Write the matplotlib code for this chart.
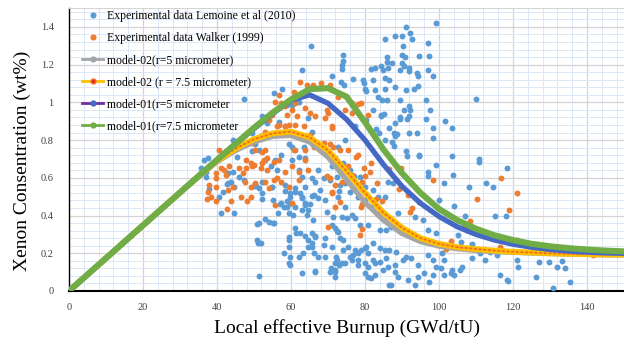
import numpy as np
import matplotlib
matplotlib.use("Agg")
import matplotlib.pyplot as plt
from matplotlib.lines import Line2D
from matplotlib.ticker import MultipleLocator, FuncFormatter

plt.rcParams['font.family'] = ['Liberation Serif', 'DejaVu Serif']

# ---------------- data ----------------
lemoine_points = [
    (99.1,1.42),(91.1,1.40),(88.0,1.35),(89.9,1.35),(92.1,1.37),(92.6,1.335),(85.3,1.335),(90.2,1.30),(96.9,1.317),
    (74.1,1.25),(74.0,1.22),(73.9,1.20),(73.9,1.176),(85.9,1.24),(85.9,1.216),(87.3,1.21),
    (89.9,1.25),(90.9,1.24),(90.0,1.21),(90.5,1.195),(89.5,1.17),(92.0,1.18),(92.0,1.165),
    (94.7,1.247),(97.4,1.245),(96.9,1.172),(98.3,1.14),(94.0,1.155),(94.4,1.14),
    (81.6,1.176),(82.8,1.18),(84.4,1.195),(84.9,1.17),(86.2,1.18),(71.0,1.14),(76.8,1.123),(73.6,1.11),(74.2,1.09),
    (79.4,1.117),(79.6,1.10),(80.0,1.07),(80.4,1.06),(85.3,1.13),(86.6,1.12),(82.2,1.12),(82.8,1.065),(85.3,1.07),
    (88.2,1.08),(91.1,1.063),(93.3,1.07),(94.4,1.085),(83.5,1.03),(84.6,1.015),(85.9,1.01),(89.4,1.01),(96.5,1.01),
    (110.1,1.02),(91.8,0.98),(92.2,0.96),(97.6,0.96),(90.5,0.96),(89.4,0.92),(91.8,0.93),(91.3,0.91),(96.5,0.91),
    (101.7,0.90),(84.4,0.93),(85.1,0.94),(88.2,0.89),(89.4,0.91),(103.6,0.863),(98.5,0.865),(98.5,0.81),(94.0,0.84),
    (91.8,0.84),(87.8,0.84),(88.7,0.83),(87.2,0.79),(87.8,0.77),(83.1,0.86),(83.7,0.84),(91.2,0.74),(94.6,0.72),
    (103.4,0.716),(110.8,0.70),
    (110.9,0.684),(118.5,0.65),(118.2,0.398),(99.1,0.668),(101.4,0.571),(103.9,0.615),(114.6,0.55),(112.7,0.57),
    (97.0,0.61),(91.4,0.716),(94.7,0.716),(76.9,0.61),(73.3,0.56),(72.9,0.53),(69.6,0.42),
    (71.4,0.394),(73.7,0.394),(75.0,0.386),(77.3,0.386),(78.6,0.35),(80.8,0.35),(84.0,0.324),(85.7,0.324),
    (71.0,0.35),(72.3,0.32),(73.2,0.28),(69.3,0.28),(71.2,0.235),(72.1,0.18),(72.9,0.14),
    (74.1,0.218),(75.9,0.182),(77.3,0.218),(79.0,0.218),(80.4,0.235),(80.8,0.20),
    (82.2,0.256),(84.0,0.226),(85.3,0.218),(86.6,0.218),(88.4,0.208),
    (76.4,0.164),(78.2,0.138),(79.9,0.147),(82.2,0.164),(84.0,0.155),(85.7,0.173),
    (72.5,0.164),(74.7,0.147),(70.7,0.12),(72.0,0.10),
    (80.7,0.076),(82.6,0.085),(86.2,0.129),(88.0,0.138),(90.2,0.164),(91.1,0.182),(92.4,0.173),(94.2,0.138),
    (96.9,0.19),(98.3,0.164),(99.1,0.129),(100.9,0.20),(101.4,0.164),(100.5,0.12),(101.4,0.085),(103.6,0.111),
    (104.1,0.085),(106.3,0.129),(109.0,0.173),(111.2,0.20),(112.5,0.164),(113.9,0.208),(116.6,0.085),(118.4,0.058),
    (86.6,0.032),(88.9,0.076),(91.6,0.058),(93.4,0.032),(94.2,0.076),(96.0,0.094),(97.4,0.049),(98.3,0.085),
    (103.2,0.094),(105.8,0.111),
    (67.4,0.642),(68.8,0.598),(71.0,0.66),(71.9,0.704),(74.1,0.677),(75.9,0.642),(78.6,0.606),(79.9,0.553),
    (82.2,0.536),(83.5,0.50),(85.3,0.50),(86.2,0.58),(87.5,0.571),(88.9,0.412),(93.4,0.394),(95.6,0.377),
    (96.9,0.324),(99.1,0.306),(105.0,0.297),(107.6,0.324),(96.9,0.633),(100.0,0.483),(101.8,0.412),(114.8,0.288),
    (47.3,1.017),(63.0,1.17),(65.5,1.30),(55.4,1.05),(57.6,1.07),(58.9,0.987),(60.3,0.987),(62.2,1.0),(64.7,0.916),
    (65.6,0.845),(63.4,0.765),(61.2,0.748),(60.3,0.695),(56.7,0.898),(58.5,0.872),(52.2,0.925),(53.6,0.89),
    (54.9,0.83),(56.2,0.83),(49.5,0.837),(50.4,0.78),(51.3,0.75),(49.5,0.74),(44.2,0.80),(45.5,0.775),(44.6,0.75),
    (45.5,0.71),(36.6,0.695),(37.5,0.704),(35.7,0.65),(37.0,0.633),(42.9,0.624),(44.2,0.633),(53.1,0.695),
    (54.5,0.66),(55.8,0.695),(57.2,0.72),(56.3,0.642),(60.3,0.765),(59.4,0.78),(62.1,0.642),(63.0,0.606),
    (63.9,0.553),(58.5,0.562),(59.8,0.50),(54.9,0.553),(51.3,0.545),(52.2,0.518),(46.0,0.606),(47.3,0.589),
    (42.9,0.571),(44.6,0.553),(37.0,0.606),(41.5,0.527),(40.6,0.50),
    (37.9,0.54),(42.8,0.568),(43.8,0.58),(41.1,0.412),(44.6,0.412),(50.0,0.557),(50.6,0.557),(52.2,0.58),
    (54.9,0.55),(52.2,0.488),(55.0,0.483),(58.5,0.532),(59.8,0.518),(61.2,0.545),(62.3,0.521),(65.6,0.504),
    (63.0,0.492),(63.9,0.465),(65.2,0.462),(57.0,0.462),(58.0,0.447),(58.9,0.479),(59.6,0.468),(56.5,0.412),
    (59.4,0.412),(60.5,0.403),(64.6,0.43),(50.7,0.355),(53.1,0.38),(54.0,0.368),(55.1,0.362),(65.9,0.377),
    (61.4,0.31),(50.7,0.27),(51.2,0.253),(59.4,0.285),(59.4,0.27),(63.7,0.29),(64.7,0.27),(65.6,0.253),
    (65.8,0.235),(66.4,0.29),(58.0,0.203),(63.2,0.20),(59.8,0.138),(66.5,0.108),(51.3,0.08),
    (121.0,0.164),(121.3,0.129),(126.9,0.152),(129.7,0.152),(132.0,0.129),(133.3,0.161),(134.0,0.12),
    (118.6,0.053),(126.2,0.073),(130.9,0.018),(135.5,0.05),(115.6,0.19),
    (51.3,0.359),(51.8,0.253),(55.4,0.359),(57.2,0.465),(58.9,0.447),(59.8,0.465),(61.2,0.447),(63.9,0.456),
    (62.9,0.43),(64.3,0.403),(61.2,0.527),(62.9,0.50),(66.1,0.509),(67.4,0.492),(59.4,0.147),(62.1,0.182),
    (64.7,0.235),(66.1,0.20),(67.4,0.182),(68.8,0.244),(63.0,0.094),(66.5,0.102),(69.2,0.182),(71.9,0.147),
    (71.9,0.111),(70.6,0.102),(72.8,0.315),(74.1,0.27),(75.5,0.235),(76.8,0.19),(78.2,0.20),(79.9,0.226),
    (71.9,0.333),(65.6,0.306),(66.5,0.288),(61.2,0.333),(62.5,0.306),(59.4,0.235),(59.8,0.182),(73.7,0.147),
    (78.2,0.164),(80.8,0.129),(82.6,0.147),(84.9,0.111),(88.0,0.102),(87.1,0.032),(79.9,0.094),(81.7,0.067),
    (71.9,0.076),
    (62.1,0.712),(63.9,0.704),(65.6,0.598),(66.5,0.58),(67.9,0.536),(69.2,0.483),(70.6,0.589),(71.9,0.668),
    (72.3,0.606),(74.6,0.571),(75.9,0.527),(78.2,0.50),(79.9,0.483),(81.7,0.447),(84.0,0.412),(85.3,0.377),
    (87.1,0.341),(72.8,0.50),(74.6,0.447),(76.4,0.403),(72.8,0.765),(74.6,0.80),(77.3,0.872),(80.4,0.907),
    (82.2,0.96),(84.4,0.934),(86.6,0.863),(88.0,0.819),(85.3,0.80),
    (104.0,0.45),(107.0,0.40),(110.0,0.33),(113.0,0.30),(115.0,0.40),(108.0,0.55),(106.0,0.26),(109.0,0.25),
]

walker_points = [
    (116.8,0.60),(110.3,0.486),(118.8,0.43),(98.5,0.589),(89.8,0.65),(91.5,0.51),(92.6,0.44),(92.1,0.42),
    (94.6,0.47),(89.1,0.54),(83.3,0.571),(81.6,0.68),(81.3,0.63),(77.6,0.71),(79.6,0.65),(80.1,0.61),(79.2,0.58),
    (86.6,0.644),(108.5,0.373),(106.8,0.337),(103.2,0.267),(101.8,0.22),(116.6,0.232),(82.9,0.49),(84.7,0.476),
    (79.2,0.46),(71.0,0.52),(73.3,0.47),(69.7,0.61),(70.6,0.60),(79.2,0.33),
    (121.0,0.518),(121.2,0.27),(117.0,0.218),(141.6,0.19),
    (62.5,1.11),(64.3,1.093),(60.7,1.057),(56.7,1.04),(55.8,1.004),(58.5,0.978),(60.3,0.96),(63.9,0.969),
    (65.2,0.943),(66.5,0.925),(61.2,0.88),(63.4,0.872),(65.2,0.828),(63.9,0.81),(54.9,0.934),(54.0,0.907),
    (51.8,0.819),(53.1,0.845),(49.5,0.784),(50.4,0.75),(53.1,0.75),(47.8,0.695),(49.1,0.677),(52.2,0.677),
    (53.6,0.642),(51.8,0.65),(60.3,0.66),(58.5,0.633),(63.9,0.695),(43.8,0.739),(42.4,0.739),(40.6,0.75),
    (41.1,0.65),(43.3,0.66),(39.7,0.624),(46.0,0.65),(46.9,0.624),(37.9,0.562),(39.7,0.553),(37.5,0.527),
    (44.2,0.553),(42.9,0.535),(49.1,0.553),(50.4,0.571),(53.1,0.58),(56.3,0.597),(57.2,0.58),(49.1,0.50),
    (47.6,0.58),(37.3,0.488),(38.4,0.497),(39.7,0.477),(43.8,0.477),(46.4,0.50),(48.2,0.479),(42.8,0.433),
    (57.2,0.996),(61.2,0.996),(58.9,0.934),(59.4,0.88),(58.5,0.872),(61.6,0.925),(56.2,0.872),(56.7,0.88),
    (69.7,0.96),(71.0,0.872),(74.6,0.96),(76.4,0.943),(79.0,0.996),(80.8,0.934),(63.9,0.748),(66.1,0.765),
    (67.9,0.748),(64.7,0.642),(62.1,0.633),(60.7,0.748),(55.4,0.686),(56.7,0.695),(52.2,0.739),(52.7,0.695),
    (53.6,0.704),(50.0,0.668),(49.5,0.66),(47.8,0.65),(39.7,0.598),(42.0,0.642),(42.4,0.615),(71.9,0.447),
    (70.1,0.341),(71.0,0.527),(71.9,0.562),(78.6,0.297),(79.0,0.447),(73.7,0.58),(75.5,0.66),(78.2,0.72),
    (76.4,0.615),(70.6,0.78),(71.4,0.765),(62.1,0.589),(59.4,0.553),(60.3,0.465),(55.8,0.456),(54.0,0.545),
    (55.4,0.589),(70.6,1.093),(71.4,1.066),(72.8,1.027),(75.0,1.027),(76.4,0.996),(78.2,0.992),(69.2,0.916),
    (70.1,0.943),(71.0,0.863),(73.2,0.748),(75.5,0.748),(68.8,0.784),(66.0,1.09),(68.0,1.10),
]

model_burnup = [0, 5, 10, 15, 20, 25, 30, 35, 40, 45, 50, 55, 60, 65, 70, 75, 80, 85, 90, 95,
                100, 105, 110, 115, 120, 125, 130, 135, 140, 145, 150]
model02_r5 = [0, 0.087, 0.174, 0.261, 0.348, 0.435, 0.522, 0.605, 0.685, 0.745, 0.79, 0.82, 0.825, 0.79,
              0.71, 0.59, 0.47, 0.375, 0.305, 0.262, 0.238, 0.224, 0.215, 0.209, 0.205, 0.201, 0.198,
              0.196, 0.194, 0.192, 0.191]
model02_r75 = [0, 0.087, 0.174, 0.261, 0.348, 0.435, 0.522, 0.607, 0.69, 0.755, 0.805, 0.835, 0.845, 0.815,
               0.745, 0.635, 0.52, 0.415, 0.335, 0.28, 0.25, 0.232, 0.222, 0.214, 0.208, 0.204, 0.20,
               0.197, 0.195, 0.193, 0.192]
model01_r5 = [0, 0.087, 0.174, 0.261, 0.348, 0.435, 0.522, 0.609, 0.695, 0.78, 0.86, 0.94, 1.01, 1.04,
              0.995, 0.91, 0.80, 0.67, 0.555, 0.465, 0.395, 0.34, 0.30, 0.27, 0.248, 0.232, 0.22,
              0.212, 0.206, 0.202, 0.20]
model01_r75 = [0, 0.087, 0.174, 0.261, 0.348, 0.435, 0.522, 0.609, 0.695, 0.78, 0.865, 0.945, 1.015, 1.07,
               1.075, 1.03, 0.895, 0.75, 0.625, 0.52, 0.435, 0.375, 0.33, 0.295, 0.27, 0.25, 0.237,
               0.227, 0.22, 0.214, 0.21]

x_ticks = [0, 20, 40, 60, 80, 100, 120, 140]
y_ticks = [0, 0.2, 0.4, 0.6, 0.8, 1.0, 1.2, 1.4]

labels = ["Experimental data Lemoine et al (2010)", "Experimental data Walker (1999)",
          "model-02(r=5 micrometer)", "model-02 (r = 7.5 micrometer)",
          "model-01(r=5 micrometer", "model-01(r=7.5 micrometer"]

# ---------------- colours ----------------
C_BLUE = '#5B9BD5'
C_ORANGE = '#ED7D31'
C_GRAY = '#A5A5A5'
C_YELLOW = '#FFC000'
C_MBLUE = '#4468C4'
C_PURPLE = '#7030A0'
C_GREEN = '#70AD47'

fig = plt.figure(figsize=(6.24, 3.47), dpi=100)
ax = fig.add_axes([69/624, 1-291/347, 555/624, 283/347])

lx, ly = zip(*lemoine_points)
wx, wy = zip(*walker_points)
ax.scatter(lx, ly, s=18, color=C_BLUE, linewidths=0, zorder=3)
ax.scatter(wx, wy, s=18, color=C_ORANGE, linewidths=0, zorder=3)

ax.plot(model_burnup, model02_r5, color=C_GRAY, lw=3.8, solid_joinstyle='round',
        solid_capstyle='round', zorder=4)
ax.plot(model_burnup, model02_r75, color=C_YELLOW, lw=4.2, solid_joinstyle='round',
        solid_capstyle='round', zorder=4)
ax.plot(model_burnup, model02_r75, color='#F0701E', lw=1.4, linestyle=(0, (0.8, 1.6)),
        dash_capstyle='round', zorder=4)
ax.plot(model_burnup, model01_r5, color=C_MBLUE, lw=3.8, solid_joinstyle='round',
        solid_capstyle='round', zorder=4)
ax.plot(model_burnup, model01_r75, color=C_GREEN, lw=4.4, solid_joinstyle='round',
        solid_capstyle='round', zorder=4)

ax.set_xlim(0, 150)
ax.set_ylim(0, 1.5)
ax.set_xticks(x_ticks)
ax.set_yticks(y_ticks)
ax.xaxis.set_minor_locator(MultipleLocator(4))
ax.yaxis.set_minor_locator(MultipleLocator(0.04))
ax.yaxis.set_major_formatter(FuncFormatter(lambda v, p: f"{v:g}"))
ax.grid(which='minor', color='#DCE8F6', lw=0.7, zorder=0)
ax.grid(which='major', color='#D4D4D4', lw=0.9, zorder=0)
ax.set_axisbelow(True)
ax.tick_params(which='both', length=0)
ax.tick_params(axis='x', pad=9, labelsize=7.5, labelcolor='#404040')
ax.tick_params(axis='y', pad=11, labelsize=7.5, labelcolor='#404040')

ax.spines['right'].set_visible(False)
ax.spines['top'].set_color('#D4D4D4')
ax.spines['left'].set_color('black')
ax.spines['left'].set_linewidth(1.0)
ax.spines['bottom'].set_color('black')
ax.spines['bottom'].set_linewidth(1.5)

ax.set_xlabel("Local effective Burnup (GWd/tU)", fontsize=14)
ax.set_ylabel("Xenon Consentration (wt%)", fontsize=14)
ax.xaxis.set_label_coords(0.5, -0.10)
ax.yaxis.set_label_coords(-0.068, 0.46)

handles = [
    Line2D([], [], ls='none', marker='o', ms=4.4, color=C_BLUE, mew=0),
    Line2D([], [], ls='none', marker='o', ms=4.4, color=C_ORANGE, mew=0),
    Line2D([], [], color=C_GRAY, lw=2, marker='o', ms=3.5, mfc=C_GRAY, mec=C_GRAY),
    Line2D([], [], color=C_YELLOW, lw=2, marker='o', ms=3.5, mfc='#E8281E', mec='#F07020'),
    Line2D([], [], color=C_PURPLE, lw=2, marker='o', ms=3.5, mfc=C_MBLUE, mec=C_MBLUE),
    Line2D([], [], color=C_GREEN, lw=2, marker='o', ms=3.5, mfc=C_GREEN, mec=C_GREEN),
]
leg = fig.legend(handles, labels, loc='upper left', bbox_to_anchor=(82/624, 1-10/347),
                 frameon=False, fontsize=8.5, handlelength=1.8, handletextpad=0.3,
                 labelspacing=0.85, borderpad=0, borderaxespad=0)
leg.set_zorder(10)

fig.savefig("out.png", dpi=100)
